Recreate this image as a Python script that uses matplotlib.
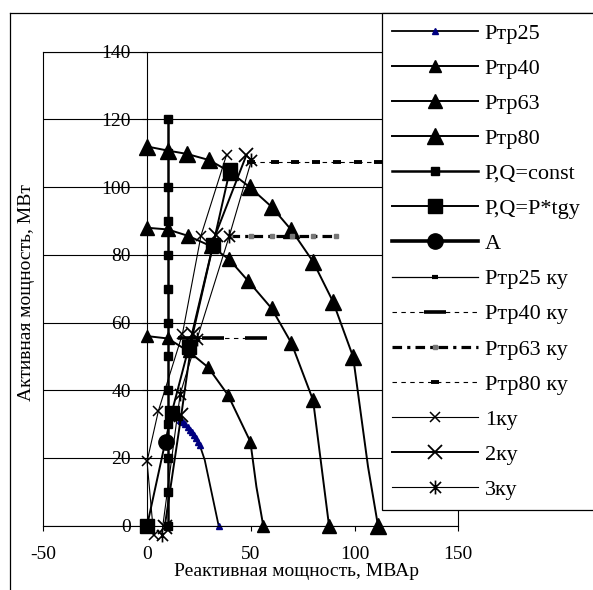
import matplotlib
matplotlib.use('Agg')
import matplotlib.pyplot as plt
from matplotlib.lines import Line2D
from matplotlib.path import Path

plt.rcParams['font.family'] = ['Liberation Serif', 'DejaVu Serif']
plt.rcParams['axes.unicode_minus'] = False

# --- данные (Q, МВАр ; P, МВт) ---
q_tr25 = [34.5, 27.8, 25.4, 24.5, 23.5, 22.5, 21.5, 20.5, 19.5, 18.5, 17.5, 16.5, 15.8]
p_tr25 = [0, 19.4, 23.8, 24.8, 25.8, 26.7, 27.6, 28.4, 29.2, 29.9, 30.5, 31.0, 31.3]
q_tr40 = [0, 10, 20, 29.4, 39, 49.8, 52.7, 56]
p_tr40 = [56, 55.3, 51.5, 46.8, 38.6, 24.8, 11.5, 0]
q_tr63 = [0, 10, 19.8, 31, 39.5, 48.7, 60, 69.6, 80, 87.7]
p_tr63 = [88, 87.5, 85.6, 82.5, 78.7, 72.3, 64.2, 53.9, 37.1, 0]
q_tr80 = [0, 10, 19.3, 29.9, 40, 49.5, 60, 69.6, 80, 89.6, 99.3, 106.5, 111.3]
p_tr80 = [112, 110.8, 109.8, 108, 104.5, 100, 94.2, 87.3, 78, 66.2, 49.9, 17.4, 0]

p_const = [0, 10, 20, 30, 40, 50, 60, 70, 80, 90, 100, 110, 120]
q_const = [10] * len(p_const)
q_tgy = [0, 11.8, 20.2, 31.8, 39.9]
p_tgy = [0, 33.2, 52.9, 82.9, 105]
q_a = [9]
p_a = [24.6]

q_tr25ky = [12, 16]
p_tr25ky = [31.5, 31.5]
q_tr40ky = [20, 32, 52.7]
p_tr40ky = [55.3, 55.3, 55.3]
q_tr63ky = [40, 50, 60, 70, 80, 91]
p_tr63ky = [85.5] * 6
q_tr80ky = [50.3, 61.5, 71.5, 81.5, 91.5, 101.5, 111.5, 121.5, 131.5, 141.5, 150]
p_tr80ky = [107.5] * 11

q_1ky = [3.2, 0, 5.5, 17, 26, 38.3]
p_1ky = [-2.8, 19, 34, 56.5, 85.7, 109.5]
q_2ky = [8.5, 16.5, 22, 33, 47.9]
p_2ky = [-0.3, 32.7, 56.5, 86, 109.5]
q_3ky = [7, 16, 24, 39.7, 50.3]
p_3ky = [-2.8, 39, 55, 85.7, 107.9]

W, H = 593, 590
fig = plt.figure(figsize=(W / 100, H / 100), dpi=100)
fig.patch.set_facecolor('white')
ax = fig.add_axes([43.3 / W, 1 - 525.7 / H, 415 / W, 474 / H])

# звездочка как в Excel: крест + вертикаль
star = Path([(-1, -1), (1, 1), (-1, 1), (1, -1), (0, -1.25), (0, 1.25)],
            [Path.MOVETO, Path.LINETO, Path.MOVETO, Path.LINETO, Path.MOVETO, Path.LINETO])

kw = dict(clip_on=False)
h = []
h += ax.plot(q_tr25, p_tr25, '-', color='k', lw=1.3, marker='^', ms=5, mfc='#000080', mec='#000080',
             markevery=[0] + list(range(2, len(q_tr25))), label='Ртр25', **kw)
h += ax.plot(q_tr40, p_tr40, '-', color='k', lw=1.4, marker='^', ms=9, mfc='k', mec='k',
             markevery=[0, 1, 2, 3, 4, 5, 7], label='Ртр40', **kw)
h += ax.plot(q_tr63, p_tr63, '-', color='k', lw=1.4, marker='^', ms=9.5, mfc='k', mec='k',
             label='Ртр63', **kw)
h += ax.plot(q_tr80, p_tr80, '-', color='k', lw=1.4, marker='^', ms=12, mfc='k', mec='k',
             markevery=[i for i in range(len(q_tr80)) if i != 11], label='Ртр80', **kw)
h += ax.plot(q_const, p_const, '-', color='k', lw=1.8, marker='s', ms=6, mfc='k', mec='k',
             label='P,Q=const', **kw)
h += ax.plot(q_tgy, p_tgy, '-', color='k', lw=1.4, marker='s', ms=10, mfc='k', mec='k',
             label='P,Q=P*tgy', **kw)
h += ax.plot(q_a, p_a, '-', color='k', lw=2.6, marker='o', ms=11, mfc='k', mec='k',
             label='A', **kw)
h += ax.plot(q_tr25ky, p_tr25ky, '-', color='k', lw=0.9, marker='_', ms=5, mew=3,
             label='Ртр25 ку', **kw)
h += ax.plot(q_tr40ky, p_tr40ky, color='k', lw=0.8, ls=(0, (4, 4)), marker='_', ms=16, mew=2.6,
             label='Ртр40 ку', **kw)
h += ax.plot(q_tr63ky, p_tr63ky, color='k', lw=2.3, ls=(0, (3, 1.6, 1, 1.6)), marker='s', ms=2.5,
             mfc='#777777', mec='#777777', label='Ртр63 ку', **kw)
h += ax.plot(q_tr80ky, p_tr80ky, color='k', lw=0.8, ls=(0, (4, 4)), marker='_', ms=6, mew=2.8,
             label='Ртр80 ку', **kw)
h += ax.plot(q_1ky, p_1ky, '-', color='k', lw=0.8, marker='x', ms=7, mew=1.1, label='1ку', **kw)
h += ax.plot(q_2ky, p_2ky, '-', color='k', lw=1.4, marker='x', ms=10.5, mew=1.3, label='2ку', **kw)
h += ax.plot(q_3ky, p_3ky, '-', color='k', lw=0.8, marker=star, ms=10, mew=1.2, mfc='none',
             label='3ку', **kw)

ax.set_xlim(-50, 150)
ax.set_ylim(0, 140)
ax.set_xticks([-50, 0, 50, 100, 150])
ax.set_yticks(range(0, 141, 20))
ax.yaxis.grid(True, color='k', lw=0.8)
ax.set_axisbelow(True)
for s in ax.spines.values():
    s.set_linewidth(0.8)
ax.spines['left'].set_position(('data', 0))
ax.axvline(-50, color='k', lw=0.8, clip_on=False, zorder=0)
ax.tick_params(axis='x', direction='out', length=3.5, width=0.8, pad=11, labelsize=14)
ax.tick_params(axis='y', direction='out', length=3.5, width=0.8, pad=8, labelsize=14)

fig.text(296 / W, 1 - 571 / H, 'Реактивная мощность, МВАр', ha='center', va='center', fontsize=14)
fig.text(26.7 / W, 1 - 293 / H, 'Активная мощность, МВт', ha='center', va='center',
         rotation=90, fontsize=14)

# рамка области диаграммы
fig.add_artist(Line2D([10 / W, 10 / W], [0, 1 - 13 / H], transform=fig.transFigure, color='k', lw=0.9))
fig.add_artist(Line2D([10 / W, 1], [1 - 13 / H, 1 - 13 / H], transform=fig.transFigure, color='k', lw=0.9))

# легенда уходит за правый край картинки
leg = fig.legend(handles=h, labels=[l.get_label() for l in h], loc='upper left',
                 bbox_to_anchor=(382 / W, 0, 0.5, 1 - 13 / H), bbox_transform=fig.transFigure,
                 mode='expand', borderaxespad=0, fontsize=16, handlelength=3.85, handletextpad=0.32,
                 labelspacing=0.655, borderpad=0.45, frameon=True, fancybox=False,
                 framealpha=1, edgecolor='k')
leg.get_frame().set_linewidth(0.9)

fig.savefig('out.png', dpi=100, facecolor='white')
